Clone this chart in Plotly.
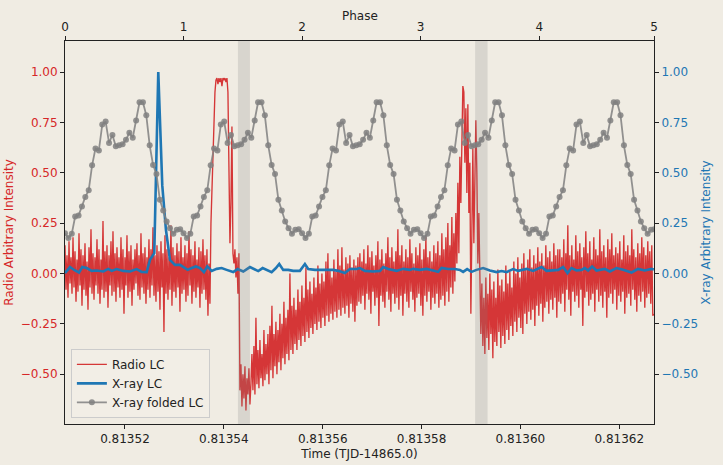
import numpy as np
import plotly.graph_objects as go

# ---------------- data ----------------
time_tick_values = [0.81352, 0.81354, 0.81356, 0.81358, 0.81360, 0.81362]
phase_tick_positions = [0, 1, 2, 3, 4, 4.968]
phase_tick_labels = ["0", "1", "2", "3", "4", "5"]
intensity_ticks = [-0.5, -0.25, 0.0, 0.25, 0.5, 0.75, 1.0]

TIME_RANGE = [0.81350787, 0.81362702]
PHASE_RANGE = [0.0, 4.968]
INTENSITY_RANGE = [-0.747, 1.154]

# Radio light curve (evenly sampled)
RADIO_T0 = 0.81350787
RADIO_DT = 2.0222e-7
radio_values = [
    # quiet part before first pulse
    0.14, -0.08, 0.09, -0.12, 0.16, -0.05, 0.08, -0.10, 0.18, -0.07,
    0.11, -0.14, 0.07, -0.09, 0.20, -0.06, 0.12, -0.16, 0.09, -0.08,
    0.15, -0.11, 0.06, -0.18, 0.13, -0.07, 0.22, -0.10, 0.10, -0.13,
    0.08, -0.06, 0.17, -0.10, 0.12, -0.15, 0.07, -0.08, 0.26, -0.12,
    0.11, -0.09, 0.14, -0.17, 0.09, -0.06, 0.16, -0.11, 0.21, -0.09,
    0.10, -0.14, 0.13, -0.07, 0.08, -0.12, 0.18, -0.08, 0.12, -0.20,
    0.08, -0.06, 0.19, -0.12, 0.11, -0.09, 0.14, -0.16, 0.07, -0.08,
    0.12, -0.05, 0.15, -0.11, 0.09, -0.13, 0.20, -0.07, 0.10, -0.10,
    0.13, -0.15, 0.08, -0.08, 0.17, -0.12, 0.12, -0.06, 0.23, -0.11,
    0.09, -0.14, 0.14, -0.09, 0.11, -0.18, 0.16, -0.07, 0.10, -0.29,
    0.19, -0.10, 0.12, -0.13, 0.08, -0.08, 0.24, -0.16, 0.13, -0.09,
    0.09, -0.12, 0.15, -0.07, 0.11, -0.19, 0.18, -0.10, 0.08, -0.08,
    0.14, -0.14, 0.10, -0.11, 0.21, -0.06, 0.12, -0.15, 0.09, -0.09,
    0.16, -0.12, 0.07, -0.07, 0.13, -0.17, 0.11, -0.10, 0.17, -0.08,
    0.09, -0.13, 0.12, -0.21,
    # first radio pulse
    0.05, -0.15, 0.25, 0.45, 0.62, 0.78, 0.90, 0.96, 0.97, 0.94,
    0.97, 0.95, 0.97, 0.93, 0.97, 0.96, 0.97, 0.95, 0.97, 0.90,
    0.40, 0.15, 0.35, 0.73, 0.10, 0.05, 0.12, -0.02, 0.08, -0.10,
    0.10,
    # deep dip
    -0.58, -0.45, -0.66, -0.50, -0.62, -0.46, -0.68, -0.52, -0.60, -0.47,
    -0.65, -0.55,
    # recovery
    -0.40, -0.58, -0.36, -0.60, -0.22, -0.55, -0.38, -0.57, -0.33, -0.52,
    -0.40, -0.56, -0.28, -0.53, -0.35, -0.50, -0.30, -0.55, -0.26, -0.48,
    -0.16, -0.52, -0.30, -0.46, -0.24, -0.50, -0.28, -0.44, -0.20, -0.48,
    -0.25, -0.42, -0.14, -0.45, -0.22, -0.40, -0.18, -0.43, 0.00, -0.38,
    -0.16, -0.40, -0.12, -0.35, -0.18, -0.38, -0.08, -0.33, -0.14, -0.36,
    -0.06, -0.31, -0.12, -0.34, 0.03, -0.29, -0.08, -0.32, -0.04, -0.27,
    -0.10, -0.30, -0.02, -0.25, -0.07, -0.28, 0.04, -0.24, -0.05, -0.27,
    0.00, -0.22, -0.04, -0.26, 0.06, -0.21, 0.10, -0.24, 0.02, -0.20,
    -0.02, -0.23, 0.07, -0.19, 0.01, -0.22, 0.12, -0.18, 0.04, -0.21,
    0.13, -0.17, 0.02, -0.20, 0.08, -0.16, 0.05, -0.22, 0.09, -0.15,
    0.03, -0.19, 0.07, -0.24, 0.04, -0.16, 0.08, -0.14,
    # quiet part before second pulse
    0.10, -0.15, 0.06, -0.11, 0.12, -0.18, 0.05, -0.10, 0.14, -0.13,
    0.08, -0.20, 0.11, -0.09, 0.04, -0.16, 0.09, -0.12, 0.16, -0.26,
    0.07, -0.11, 0.12, -0.14, 0.05, -0.17, 0.10, -0.09, 0.18, -0.13,
    0.08, -0.19, 0.13, -0.10, 0.06, -0.15, 0.11, -0.12, 0.22, -0.18,
    0.09, -0.11, 0.14, -0.21, 0.06, -0.10, 0.12, -0.14, 0.08, -0.17,
    0.17, -0.09, 0.10, -0.13, 0.05, -0.19, 0.13, -0.12, 0.09, -0.10,
    0.15, -0.16, 0.07, -0.21, 0.12, -0.11, 0.19, -0.14, 0.08, -0.09,
    0.11, -0.18, 0.06, -0.12, 0.14, -0.15, 0.10, -0.10, 0.16, -0.17,
    0.09, -0.13, 0.20, -0.11, 0.12, -0.16, 0.18, -0.09, 0.25, -0.14,
    0.14, -0.07, 0.28, -0.10, 0.20, -0.04,
    # second radio pulse
    0.30, 0.05, 0.45, 0.10, 0.58, 0.35, 0.80, 0.93, 0.90, 0.55,
    0.82, 0.40, 0.84, 0.30, 0.55, -0.20, 0.20, 0.62, 0.15, 0.40,
    0.76, 0.50, 0.05, 0.30, -0.10, -0.30,
    # post-pulse depression
    -0.05, -0.36, -0.12, -0.40, -0.02, -0.32, -0.10, -0.38, 0.00, -0.30,
    -0.08, -0.42, -0.04, -0.34, -0.12, -0.36, 0.02, -0.29, -0.06, -0.37,
    -0.03, -0.31, -0.09, -0.35, 0.04, -0.28, -0.05, -0.33, 0.01, -0.26,
    -0.07, -0.31, 0.06, -0.24, 0.00, -0.29, 0.08, -0.22, -0.02, -0.27,
    0.05, -0.30, 0.10, -0.20, 0.02, -0.25, 0.07, -0.19, 0.12, -0.23,
    0.03, -0.18, 0.09, -0.26, 0.05, -0.16, 0.13, -0.21, 0.06, -0.15,
    0.10, -0.24, 0.04, -0.17, 0.14, -0.14, 0.08, -0.20, 0.11, -0.13,
    0.06, -0.18, 0.15, -0.12, 0.09, -0.22, 0.12, -0.14,
    # quiet tail
    0.12, -0.15, 0.08, -0.10, 0.17, -0.19, 0.10, -0.08, 0.24, -0.13,
    0.09, -0.21, 0.14, -0.09, 0.07, -0.14, 0.19, -0.11, 0.11, -0.17,
    0.15, -0.08, 0.08, -0.26, 0.13, -0.12, 0.21, -0.09, 0.10, -0.16,
    0.16, -0.13, 0.07, -0.10, 0.18, -0.19, 0.12, -0.08, 0.09, -0.14,
    0.22, -0.11, 0.11, -0.17, 0.14, -0.09, 0.08, -0.22, 0.17, -0.12,
    0.12, -0.10, 0.20, -0.15, 0.09, -0.08, 0.13, -0.18, 0.10, -0.11,
    0.16, -0.14, 0.07, -0.09, 0.19, -0.20, 0.11, -0.12, 0.14, -0.10,
    0.09, -0.16, 0.22, -0.08, 0.12, -0.13, 0.08, -0.19, 0.15, -0.11,
    0.10, -0.14, 0.18, -0.09, 0.13, -0.17, 0.09, -0.12, 0.16, -0.10,
    0.11, -0.15, 0.14, -0.21, -0.20,
]

# X-ray light curve
xray_time = [
    0.81350787, 0.81350888, 0.81350989, 0.81351070, 0.81351137, 0.81351226,
    0.81351327, 0.81351428, 0.81351562, 0.81351663, 0.81351731, 0.81351832,
    0.81351966, 0.81352101, 0.81352237, 0.81352338, 0.81352439, 0.81352506,
    0.81352593, 0.81352674, 0.81352755, 0.81352829, 0.81352910, 0.81353011,
    0.81353113, 0.81353179, 0.81353268, 0.81353349, 0.81353436, 0.81353517,
    0.81353598, 0.81353665, 0.81353754, 0.81353855, 0.81353956, 0.81354057,
    0.81354190, 0.81354279, 0.81354393, 0.81354528, 0.81354629, 0.81354696,
    0.81354785, 0.81354866, 0.81354967, 0.81355054, 0.81355121, 0.81355201,
    0.81355303, 0.81355404, 0.81355539, 0.81355640, 0.81355707, 0.81355843,
    0.81356010, 0.81356212, 0.81356314, 0.81356449, 0.81356550, 0.81356686,
    0.81356752, 0.81356854, 0.81357021, 0.81357157, 0.81357224, 0.81357325,
    0.81357495, 0.81357628, 0.81357764, 0.81357830, 0.81357966, 0.81358101,
    0.81358235, 0.81358336, 0.81358405, 0.81358538, 0.81358674, 0.81358775,
    0.81358841, 0.81358922, 0.81359011, 0.81359112, 0.81359246, 0.81359381,
    0.81359517, 0.81359618, 0.81359719, 0.81359852, 0.81359954, 0.81360022,
    0.81360123, 0.81360257, 0.81360427, 0.81360528, 0.81360661, 0.81360762,
    0.81360863, 0.81360952, 0.81361033, 0.81361135, 0.81361236, 0.81361302,
    0.81361369, 0.81361450, 0.81361539, 0.81361707, 0.81361808, 0.81361943,
    0.81362077, 0.81362247, 0.81362380, 0.81362516, 0.81362651, 0.81362698,
]
xray_values = [
    0.002, 0.032, 0.015, 0.005, 0.032, 0.027,
    0.013, 0.015, 0.010, 0.023, 0.013, 0.022,
    0.013, 0.010, 0.022, 0.008, 0.007, 0.068,
    0.101, 1.000, 0.436, 0.217, 0.068, 0.043,
    0.043, 0.032, 0.018, 0.027, 0.035, 0.027,
    0.007, 0.035, 0.013, 0.023, 0.027, 0.018,
    0.007, 0.022, 0.010, 0.032, 0.018, 0.012,
    0.027, 0.018, 0.007, 0.027, 0.047, 0.018,
    0.018, 0.013, 0.013, 0.047, 0.022, 0.018,
    0.018, 0.018, 0.013, 0.002, 0.022, 0.022,
    0.027, 0.013, 0.010, 0.013, 0.032, 0.022,
    0.013, 0.023, 0.018, 0.023, 0.018, 0.023,
    0.015, 0.008, 0.028, 0.022, 0.022, 0.018,
    0.008, 0.022, 0.008, 0.018, 0.027, 0.015,
    0.007, 0.012, 0.007, 0.022, 0.013, 0.018,
    0.023, 0.013, 0.032, 0.013, 0.015, 0.018,
    0.032, 0.002, 0.027, 0.015, 0.018, 0.027,
    0.015, 0.035, 0.015, 0.023, 0.010, 0.027,
    0.018, 0.005, 0.023, 0.015, 0.023, 0.020,
]

# X-ray folded pulse profile: 35 phase bins per cycle, shown over 5 cycles
folded_profile = [
    0.200, 0.176, 0.197, 0.283, 0.288, 0.333, 0.380, 0.413, 0.537, 0.621,
    0.611, 0.739, 0.754, 0.648, 0.688, 0.631, 0.636, 0.641, 0.664, 0.698,
    0.674, 0.760, 0.850, 0.850, 0.785, 0.636, 0.539, 0.494, 0.366, 0.313,
    0.258, 0.225, 0.197, 0.217, 0.220,
]
N_CYCLES = 5

# shaded time intervals
shade_spans = [(0.81354285, 0.81354528), (0.81359084, 0.81359335)]

# ---------------- figure ----------------
BG = "rgb(240,236,227)"
RED = "#d62728"
BLUE = "#1f77b4"
FONT = "DejaVu Sans"

radio_time = RADIO_T0 + RADIO_DT * np.arange(len(radio_values))
nb = len(folded_profile)
folded_phase = [c + k / nb for c in range(N_CYCLES) for k in range(nb)]
folded_values = [folded_profile[k] for c in range(N_CYCLES) for k in range(nb)]

fig = go.Figure()
fig.add_trace(go.Scatter(
    x=radio_time, y=radio_values, mode="lines", name="Radio LC",
    line=dict(color="rgba(210,34,36,0.9)", width=1.35),
    xaxis="x", yaxis="y",
))
fig.add_trace(go.Scatter(
    x=xray_time, y=xray_values, mode="lines", name="X-ray LC",
    line=dict(color=BLUE, width=2.6),
    xaxis="x", yaxis="y2",
))
fig.add_trace(go.Scatter(
    x=folded_phase, y=folded_values, mode="lines+markers", name="X-ray folded LC",
    line=dict(color="rgba(128,128,128,0.85)", width=1.8),
    marker=dict(color="rgba(128,128,128,0.85)", size=6),
    xaxis="x2", yaxis="y2",
))

for t0, t1 in shade_spans:
    fig.add_shape(type="rect", xref="x", yref="paper", x0=t0, x1=t1, y0=0, y1=1,
                  fillcolor="rgba(128,128,128,0.21)", line=dict(width=0), layer="above")

fig.add_annotation(text="Phase", xref="paper", yref="paper", x=0.5, y=1.0653,
                   xanchor="center", yanchor="middle", showarrow=False,
                   font=dict(family=FONT, size=12, color="#222222"))

axis_common = dict(showgrid=False, zeroline=False, showline=True, linecolor="#222222",
                   linewidth=1, ticks="outside", ticklen=4, tickwidth=1,
                   tickcolor="#222222", automargin=False)

fig.update_layout(
    width=723, height=465,
    margin=dict(l=65, r=69, t=41, b=41),
    paper_bgcolor=BG, plot_bgcolor=BG,
    font=dict(family=FONT, size=12, color="#222222"),
    showlegend=True,
    legend=dict(x=0.01, y=0.016, xanchor="left", yanchor="bottom",
                bgcolor="rgba(242,238,230,0.85)", bordercolor="#cccccc", borderwidth=1,
                font=dict(family=FONT, size=12, color="#222222"), tracegroupgap=0),
    xaxis=dict(range=TIME_RANGE, tickvals=time_tick_values, tickformat=".5f",
               title=dict(text="Time (TJD-14865.0)", standoff=4,
                          font=dict(family=FONT, size=12, color="#222222")),
               anchor="y", **axis_common),
    xaxis2=dict(range=PHASE_RANGE, tickvals=phase_tick_positions, ticktext=phase_tick_labels,
                overlaying="x", side="top", anchor="y", **axis_common),
    yaxis=dict(range=INTENSITY_RANGE, tickvals=intensity_ticks, tickformat=".2f",
               tickfont=dict(color=RED),
               title=dict(text="Radio Arbitrary Intensity", standoff=4,
                          font=dict(family=FONT, size=12, color=RED)),
               anchor="x", **axis_common),
    yaxis2=dict(range=INTENSITY_RANGE, tickvals=intensity_ticks, tickformat=".2f",
                tickfont=dict(color=BLUE), overlaying="y", side="right", anchor="x",
                title=dict(text="X-ray Arbitrary Intensity", standoff=4,
                           font=dict(family=FONT, size=12, color=BLUE)),
                **axis_common),
)

fig.write_html("out.html", config={"displayModeBar": False},
               post_script="document.body.style.margin='0px';document.body.style.background='rgb(240,236,227)';")
